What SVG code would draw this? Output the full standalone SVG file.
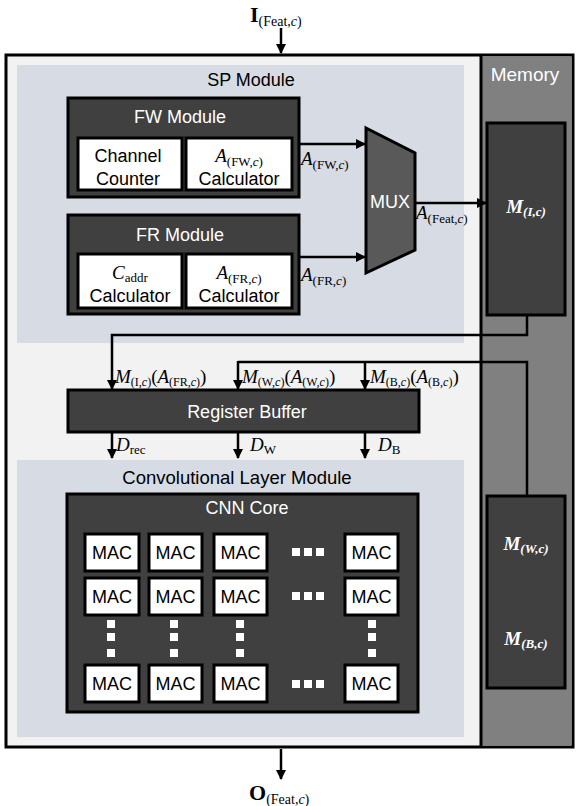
<svg xmlns="http://www.w3.org/2000/svg" width="578" height="806" viewBox="0 0 578 806">
<defs>
<marker id="ah" viewBox="0 0 10 10" refX="9" refY="5" markerWidth="4" markerHeight="4" orient="auto" markerUnits="strokeWidth">
<path d="M0,0 L10,5 L0,10 z" fill="#000"/>
</marker>
<style>
.sans{font-family:"Liberation Sans","Open Sans",Arial,sans-serif;}
.math{font-family:"Liberation Serif","DejaVu Serif",serif;}
.dark{fill:#404040;stroke:#000;stroke-width:3;}
.wbox{fill:#fff;stroke:#000;stroke-width:3;}
.wt{fill:#fff;}
.lbl{font-size:18px;text-anchor:middle;}
.mac{font-size:18px;text-anchor:middle;fill:#000;}
.conn{fill:none;stroke:#000;stroke-width:2.5;}
.arr{fill:none;stroke:#000;stroke-width:2.5;marker-end:url(#ah);}
.dot{fill:#fff;}
</style>
</defs>

<g id="frame">
<rect x="6" y="55" width="567" height="692" fill="#f2f2f2" stroke="#000" stroke-width="3"/>
<rect x="481" y="56.5" width="90.5" height="689" fill="#808080"/>
<line x1="481" y1="55" x2="481" y2="747" stroke="#000" stroke-width="3"/>
</g>

<g id="sp-module">
<rect x="17" y="65" width="447" height="278" fill="#d6dbe4"/>
<text class="sans" x="251" y="86" font-size="18" text-anchor="middle" fill="#000">SP Module</text>
</g>

<g id="fw-module">
<rect class="dark" x="68" y="98" width="231" height="99"/>
<text class="sans lbl wt" x="180" y="123">FW Module</text>
<rect class="wbox" x="78" y="138" width="104" height="52"/>
<text class="sans lbl" x="128" y="162">Channel</text>
<text class="sans lbl" x="128" y="185">Counter</text>
<rect class="wbox" x="186" y="138" width="106" height="52"/>
<text class="math" x="239" y="162" font-size="19" text-anchor="middle"><tspan font-style="italic">A</tspan><tspan font-size="13" dy="4">(FW,</tspan><tspan font-size="13" font-style="italic">c</tspan><tspan font-size="13">)</tspan></text>
<text class="sans lbl" x="239" y="185">Calculator</text>
</g>

<g id="fr-module">
<rect class="dark" x="68" y="215" width="231" height="99"/>
<text class="sans lbl wt" x="180" y="241">FR Module</text>
<rect class="wbox" x="78" y="254" width="104" height="54"/>
<text class="math" x="130" y="279" font-size="19" text-anchor="middle"><tspan font-style="italic">C</tspan><tspan font-size="13" dy="3">addr</tspan></text>
<text class="sans lbl" x="130" y="302">Calculator</text>
<rect class="wbox" x="186" y="254" width="106" height="54"/>
<text class="math" x="239" y="279" font-size="19" text-anchor="middle"><tspan font-style="italic">A</tspan><tspan font-size="13" dy="4">(FR,</tspan><tspan font-size="13" font-style="italic">c</tspan><tspan font-size="13">)</tspan></text>
<text class="sans lbl" x="239" y="302">Calculator</text>
</g>

<g id="mux">
<polygon points="366,128 415,153 415,250 366,273" fill="#595959" stroke="#000" stroke-width="3"/>
<text class="sans wt" x="390" y="208" font-size="18" text-anchor="middle">MUX</text>
</g>

<g id="memory">
<text class="sans wt" x="525" y="81" font-size="19" text-anchor="middle">Memory</text>
</g>

<g id="mem-i">
<rect class="dark" x="487" y="123" width="78" height="192" fill="#3c3c3c"/>
<text class="math wt" x="526" y="213" font-size="19" font-style="italic" font-weight="bold" text-anchor="middle">M<tspan font-size="13" dy="3">(I,c)</tspan></text>
</g>

<g id="mem-wb">
<rect class="dark" x="487" y="496" width="78" height="192"/>
<text class="math wt" x="526" y="550" font-size="19" font-style="italic" font-weight="bold" text-anchor="middle">M<tspan font-size="13" dy="3">(W,c)</tspan></text>
<text class="math wt" x="526" y="645" font-size="19" font-style="italic" font-weight="bold" text-anchor="middle">M<tspan font-size="13" dy="3">(B,c)</tspan></text>
</g>

<g id="register-buffer">
<rect class="dark" x="68" y="390" width="351" height="42"/>
<text class="sans wt" x="247" y="418" font-size="18" text-anchor="middle">Register Buffer</text>
</g>

<g id="conv-module">
<rect x="17" y="460" width="447" height="277" fill="#d6dbe4"/>
<text class="sans" x="237" y="484" font-size="18.5" text-anchor="middle" fill="#000">Convolutional Layer Module</text>
</g>

<g id="cnn-core">
<rect class="dark" x="67" y="494" width="351" height="218"/>
<text class="sans wt" x="247" y="514" font-size="18" text-anchor="middle">CNN Core</text>
<g id="macs">
<rect class="wbox" x="85" y="534" width="54" height="37"/><text class="sans mac" x="112" y="559">MAC</text>
<rect class="wbox" x="149" y="534" width="53" height="37"/><text class="sans mac" x="175.5" y="559">MAC</text>
<rect class="wbox" x="214" y="534" width="53" height="37"/><text class="sans mac" x="240.5" y="559">MAC</text>
<rect class="wbox" x="345" y="534" width="53" height="37"/><text class="sans mac" x="371.5" y="559">MAC</text>
<rect class="wbox" x="85" y="578" width="54" height="37"/><text class="sans mac" x="112" y="603">MAC</text>
<rect class="wbox" x="149" y="578" width="53" height="37"/><text class="sans mac" x="175.5" y="603">MAC</text>
<rect class="wbox" x="214" y="578" width="53" height="37"/><text class="sans mac" x="240.5" y="603">MAC</text>
<rect class="wbox" x="345" y="578" width="53" height="37"/><text class="sans mac" x="371.5" y="603">MAC</text>
<rect class="wbox" x="85" y="665" width="54" height="37"/><text class="sans mac" x="112" y="690">MAC</text>
<rect class="wbox" x="149" y="665" width="53" height="37"/><text class="sans mac" x="175.5" y="690">MAC</text>
<rect class="wbox" x="214" y="665" width="53" height="37"/><text class="sans mac" x="240.5" y="690">MAC</text>
<rect class="wbox" x="345" y="665" width="53" height="37"/><text class="sans mac" x="371.5" y="690">MAC</text>
</g>
<g id="dots">
<rect class="dot" x="292" y="548" width="8" height="8"/><rect class="dot" x="304" y="548" width="8" height="8"/><rect class="dot" x="316" y="548" width="8" height="8"/>
<rect class="dot" x="292" y="592" width="8" height="8"/><rect class="dot" x="304" y="592" width="8" height="8"/><rect class="dot" x="316" y="592" width="8" height="8"/>
<rect class="dot" x="292" y="680" width="8" height="8"/><rect class="dot" x="304" y="680" width="8" height="8"/><rect class="dot" x="316" y="680" width="8" height="8"/>
<rect class="dot" x="107" y="620" width="8" height="8"/><rect class="dot" x="107" y="633" width="8" height="8"/><rect class="dot" x="107" y="649" width="8" height="8"/>
<rect class="dot" x="170" y="620" width="8" height="8"/><rect class="dot" x="170" y="633" width="8" height="8"/><rect class="dot" x="170" y="649" width="8" height="8"/>
<rect class="dot" x="236" y="620" width="8" height="8"/><rect class="dot" x="236" y="633" width="8" height="8"/><rect class="dot" x="236" y="649" width="8" height="8"/>
<rect class="dot" x="368" y="620" width="8" height="8"/><rect class="dot" x="368" y="633" width="8" height="8"/><rect class="dot" x="368" y="649" width="8" height="8"/>
</g>
</g>

<g id="connectors">
<line class="arr" x1="281" y1="28" x2="281" y2="53"/>
<line class="arr" x1="299" y1="144" x2="365" y2="144"/>
<line class="arr" x1="299" y1="257" x2="365" y2="257"/>
<line class="arr" x1="416" y1="203" x2="486" y2="203"/>
<polyline class="arr" points="527,316 527,335 112,335 112,389"/>
<polyline class="conn" points="527,495 527,362 238,362"/>
<line class="arr" x1="238" y1="361" x2="238" y2="389"/>
<line class="arr" x1="365" y1="362" x2="365" y2="389"/>
<line class="arr" x1="112" y1="433" x2="112" y2="458"/>
<line class="arr" x1="238" y1="433" x2="238" y2="458"/>
<line class="arr" x1="365" y1="433" x2="365" y2="458"/>
<line class="arr" x1="281" y1="749" x2="281" y2="779"/>
</g>

<g id="labels">
<text class="math" x="250" y="22" font-size="22" font-weight="bold">I<tspan font-size="14" font-weight="normal" dy="4">(Feat,</tspan><tspan font-size="14" font-weight="normal" font-style="italic">c</tspan><tspan font-size="14" font-weight="normal">)</tspan></text>
<text class="math" x="249" y="800" font-size="22" font-weight="bold">O<tspan font-size="14" font-weight="normal" dy="4">(Feat,</tspan><tspan font-size="14" font-weight="normal" font-style="italic">c</tspan><tspan font-size="14" font-weight="normal">)</tspan></text>
<text class="math" x="301" y="165" font-size="19"><tspan font-style="italic">A</tspan><tspan font-size="13" dy="4">(FW,</tspan><tspan font-size="13" font-style="italic">c</tspan><tspan font-size="13">)</tspan></text>
<text class="math" x="301" y="281" font-size="19"><tspan font-style="italic">A</tspan><tspan font-size="13" dy="4">(FR,</tspan><tspan font-size="13" font-style="italic">c</tspan><tspan font-size="13">)</tspan></text>
<text class="math" x="416" y="219" font-size="19"><tspan font-style="italic">A</tspan><tspan font-size="13" dy="4">(Feat,</tspan><tspan font-size="13" font-style="italic">c</tspan><tspan font-size="13">)</tspan></text>
<text class="math" x="115" y="383" font-size="19"><tspan font-style="italic">M</tspan><tspan font-size="12" dy="3">(I,</tspan><tspan font-size="12" font-style="italic">c</tspan><tspan font-size="12">)</tspan><tspan dy="-3">(</tspan><tspan font-style="italic">A</tspan><tspan font-size="12" dy="3">(FR,</tspan><tspan font-size="12" font-style="italic">c</tspan><tspan font-size="12">)</tspan><tspan dy="-3">)</tspan></text>
<text class="math" x="242" y="383" font-size="19"><tspan font-style="italic">M</tspan><tspan font-size="12" dy="3">(W,</tspan><tspan font-size="12" font-style="italic">c</tspan><tspan font-size="12">)</tspan><tspan dy="-3">(</tspan><tspan font-style="italic">A</tspan><tspan font-size="12" dy="3">(W,</tspan><tspan font-size="12" font-style="italic">c</tspan><tspan font-size="12">)</tspan><tspan dy="-3">)</tspan></text>
<text class="math" x="370" y="383" font-size="19"><tspan font-style="italic">M</tspan><tspan font-size="12" dy="3">(B,</tspan><tspan font-size="12" font-style="italic">c</tspan><tspan font-size="12">)</tspan><tspan dy="-3">(</tspan><tspan font-style="italic">A</tspan><tspan font-size="12" dy="3">(B,</tspan><tspan font-size="12" font-style="italic">c</tspan><tspan font-size="12">)</tspan><tspan dy="-3">)</tspan></text>
<text class="math" x="116" y="451" font-size="19"><tspan font-style="italic">D</tspan><tspan font-size="13" dy="3">rec</tspan></text>
<text class="math" x="250" y="451" font-size="19"><tspan font-style="italic">D</tspan><tspan font-size="13" dy="3">W</tspan></text>
<text class="math" x="378" y="451" font-size="19"><tspan font-style="italic">D</tspan><tspan font-size="13" dy="3">B</tspan></text>
</g>
</svg>
